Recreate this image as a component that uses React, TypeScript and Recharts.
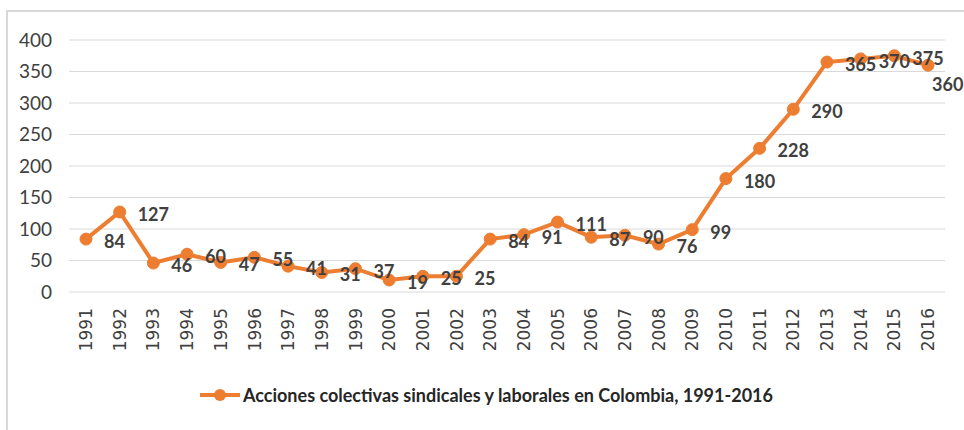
import React from 'react';
import { LineChart, Line, XAxis, YAxis, CartesianGrid, Legend, LabelList } from 'recharts';

const years = ['1991','1992','1993','1994','1995','1996','1997','1998','1999','2000','2001','2002','2003','2004','2005','2006','2007','2008','2009','2010','2011','2012','2013','2014','2015','2016'];
const acciones = [84,127,46,60,47,55,41,31,37,19,25,25,84,91,111,87,90,76,99,180,228,290,365,370,375,360];
const yTicks = [0,50,100,150,200,250,300,350,400];
const seriesName = 'Acciones colectivas sindicales y laborales en Colombia, 1991-2016';

const data = years.map((y, i) => ({ year: y, value: acciones[i] }));

const ORANGE = '#ED7D31';
const FONT = 'Lato, "Open Sans", sans-serif';

const XTick = (props: any) => {
  const { x, y, payload } = props;
  return (
    <text
      transform={`translate(${x},${y + 8}) rotate(-90)`}
      textAnchor="end"
      dy="0.36em"
      fontFamily='"DejaVu Sans", sans-serif'
      fontSize={17}
      fill="#404040"
    >
      {payload.value}
    </text>
  );
};

const DataLabel = (props: any) => {
  const { x, y, value, index } = props;
  const last = index === acciones.length - 1;
  return (
    <text
      x={last ? x + 4 : x + 18}
      y={last ? y + 26 : y + 9}
      fontFamily={FONT}
      fontWeight="bold"
      fontSize={18}
      fill="#404040"
    >
      {value}
    </text>
  );
};

const LegendContent = () => (
  <div style={{ display: 'flex', justifyContent: 'flex-start', alignItems: 'center', height: 30, paddingLeft: 200 }}>
    <svg width={42} height={14} style={{ display: 'block' }}>
      <line x1={0} y1={7} x2={40} y2={7} stroke={ORANGE} strokeWidth={4} />
      <circle cx={20} cy={7} r={6} fill={ORANGE} />
    </svg>
    <span style={{ fontFamily: FONT, fontWeight: 'bold', fontSize: 18, color: '#262626', marginLeft: 1, whiteSpace: 'nowrap' }}>
      {seriesName}
    </span>
  </div>
);

export default function App() {
  return (
    <div style={{ position: 'absolute', left: 0, top: 0, width: 964, height: 430, background: '#fff' }}>
      <div style={{ position: 'absolute', left: 6, top: 10, right: 0, bottom: 0, borderTop: '2px solid #d9d9d9', borderLeft: '2px solid #d9d9d9' }} />
      <LineChart width={964} height={430} data={data} margin={{ top: 40, right: 19, bottom: 48, left: 0 }}>
        <CartesianGrid vertical={false} stroke="#d9d9d9" strokeWidth={1} />
        <XAxis
          dataKey="year"
          interval={0}
          padding={{ left: 17, right: 17 }}
          axisLine={false}
          tickLine={false}
          tick={<XTick />}
          height={60}
        />
        <YAxis
          domain={[0, 400]}
          ticks={yTicks}
          width={69}
          axisLine={false}
          tickLine={false}
          tickMargin={11}
          tick={{ fontFamily: FONT, fontSize: 19, fill: '#404040' }}
        />
        <Legend verticalAlign="bottom" content={<LegendContent />} wrapperStyle={{ top: 380, bottom: 'auto' }} />
        <Line
          type="linear"
          dataKey="value"
          name={seriesName}
          stroke={ORANGE}
          strokeWidth={4}
          dot={{ r: 6, fill: ORANGE, stroke: ORANGE, strokeWidth: 1 }}
          isAnimationActive={false}
        >
          <LabelList dataKey="value" content={<DataLabel />} />
        </Line>
      </LineChart>
    </div>
  );
}
